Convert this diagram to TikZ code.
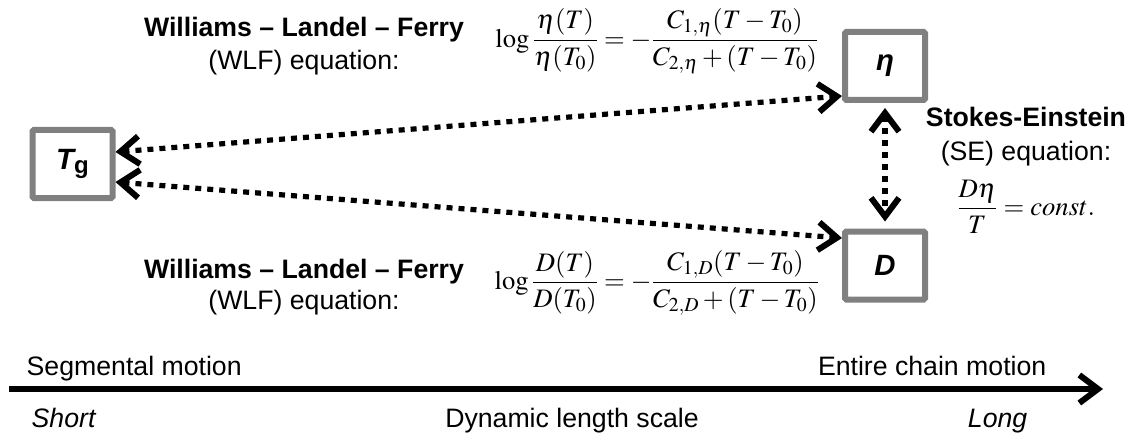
\documentclass[tikz,border=0pt]{standalone}
\usepackage{mathptmx}
\usepackage[no-math]{fontspec}
\setmainfont{Liberation Sans}
\usetikzlibrary{arrows.meta}

\begin{document}
\begin{tikzpicture}[x=0.75pt,y=-0.75pt,
    >={Straight Barb[length=14pt,width=21pt,line width=4.5pt]},
    box/.style={draw=gray, line width=4.5pt, rounded corners=1pt, minimum width=60pt, minimum height=51pt, inner sep=0pt, font=\fontsize{22}{26}\selectfont\bfseries\itshape},
    link/.style={<->, line width=3.9pt, dash pattern=on 4.5pt off 4.5pt},
    txt/.style={anchor=base, font=\fontsize{20}{24}\selectfont},
    eqn/.style={font=\fontsize{20}{24}\selectfont}]
    \useasboundingbox (0,0) rectangle (1133,435);

    % Boxes
    \node[box] (Tg) at (72.5,164) {T\raisebox{-3pt}{\upshape\fontsize{18}{18}\selectfont g}};
    \node[box] (eta) at (885,66) {η};
    \node[box] (D) at (885,265.5) {D};

    % Relations
    \draw[link] ([yshift=9pt]Tg.east) -- ([yshift=-22.5pt]eta.west);
    \draw[link] ([yshift=-13.5pt]Tg.east) -- ([yshift=20.6pt]D.west);
    \draw[link, shorten <=3.75pt, shorten >=5.25pt] (eta.south) -- (D.north);

    % WLF for the viscosity
    \node[txt, font=\fontsize{20}{24}\selectfont\bfseries] (wlfEta) at (304,37) {Williams -- Landel -- Ferry};
    \node[txt] (wlfEtaSub) at (304,70) {(WLF) equation:};
    \node[eqn] (eqEta) at (657,41) {$\displaystyle \log\frac{\eta(T)}{\eta(T_0)}=-\frac{C_{1,\eta}(T-T_0)}{C_{2,\eta}+(T-T_0)}$};

    % WLF for the diffusion
    \node[txt, font=\fontsize{20}{24}\selectfont\bfseries] (wlfD) at (304,278) {Williams -- Landel -- Ferry};
    \node[txt] (wlfDSub) at (304,309) {(WLF) equation:};
    \node[eqn] (eqD) at (657,283) {$\displaystyle \log\frac{D(T)}{D(T_0)}=-\frac{C_{1,D}(T-T_0)}{C_{2,D}+(T-T_0)}$};

    % Stokes-Einstein
    \node[txt, font=\fontsize{20}{24}\selectfont\bfseries] (se) at (1026,127) {Stokes-Einstein};
    \node[txt] (seSub) at (1026,161) {(SE) equation:};
    \node[eqn] (eqSE) at (1026,207) {$\displaystyle \frac{D\eta}{T}=const.$};

    % Length scale axis
    \coordinate (axL) at (9,389);
    \coordinate (axR) at (1103,389);
    \draw[->, line width=4pt] (axL) -- (axR);
    \node[txt, anchor=base west] (seg) at (22,375) {Segmental motion};
    \node[txt, anchor=base east] (chain) at (1051,375) {Entire chain motion};
    \node[txt, anchor=base west, font=\fontsize{20}{24}\selectfont\itshape] (short) at (27,427) {Short};
    \node[txt] (scale) at (572,427) {Dynamic length scale};
    \node[txt, anchor=base east, font=\fontsize{20}{24}\selectfont\itshape] (long) at (1032,427) {Long};
\end{tikzpicture}
\end{document}
